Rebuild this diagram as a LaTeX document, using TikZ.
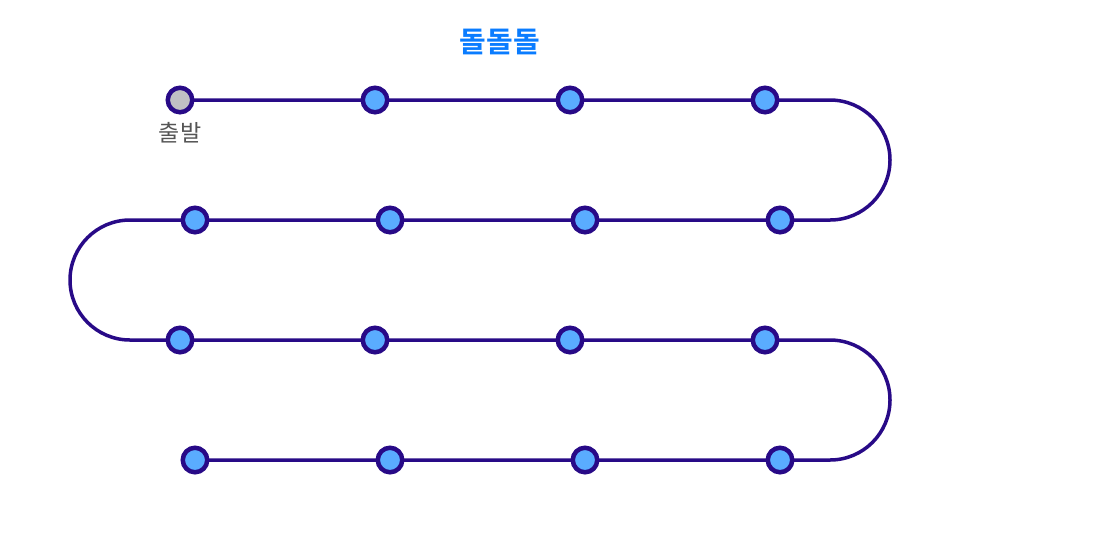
\documentclass[tikz,border=0pt]{standalone}
\usepackage{fontspec}
\newfontfamily\kr{Noto Sans CJK KR}
\newfontfamily\krb{Noto Sans CJK KR Bold}
\definecolor{track}{RGB}{40,10,135}
\definecolor{dotfill}{RGB}{90,172,255}
\definecolor{startfill}{RGB}{192,192,196}
\definecolor{titleblue}{RGB}{10,124,255}
\definecolor{labelgray}{RGB}{85,85,85}
\begin{document}
\begin{tikzpicture}[x=1pt,y=-1pt,
  dot/.style={circle,draw=track,line width=4.5pt,fill=dotfill,minimum size=24.5pt,inner sep=0pt},
  startdot/.style={dot,fill=startfill},
  trackline/.style={draw=track,line width=3.5pt}]
\useasboundingbox (0,0) rectangle (1100,550);
% turn points
\coordinate (t1) at (830,100);
\coordinate (t2) at (830,220);
\coordinate (t3) at (130,220);
\coordinate (t4) at (130,340);
\coordinate (t5) at (830,340);
\coordinate (t6) at (830,460);
% track
\path[trackline] (180,100) -- (t1) arc[start angle=-90,end angle=90,radius=60]
  -- (t3) arc[start angle=270,end angle=90,radius=60]
  -- (t5) arc[start angle=-90,end angle=90,radius=60] -- (195,460);
% stations
\node[startdot] (n1) at (180,100) {};
\node[dot] (n2) at (375,100) {};
\node[dot] (n3) at (570,100) {};
\node[dot] (n4) at (765,100) {};
\node[dot] (n5) at (195,220) {};
\node[dot] (n6) at (390,220) {};
\node[dot] (n7) at (585,220) {};
\node[dot] (n8) at (780,220) {};
\node[dot] (n9) at (180,340) {};
\node[dot] (n10) at (375,340) {};
\node[dot] (n11) at (570,340) {};
\node[dot] (n12) at (765,340) {};
\node[dot] (n13) at (195,460) {};
\node[dot] (n14) at (390,460) {};
\node[dot] (n15) at (585,460) {};
\node[dot] (n16) at (780,460) {};
% texts
\node[text=titleblue,font=\krb\fontsize{29}{32}\selectfont] (title) at (500,42) {돌돌돌};
\node[text=labelgray,font=\kr\fontsize{23}{26}\selectfont] (startlabel) at (180,133) {출발};
\end{tikzpicture}
\end{document}
